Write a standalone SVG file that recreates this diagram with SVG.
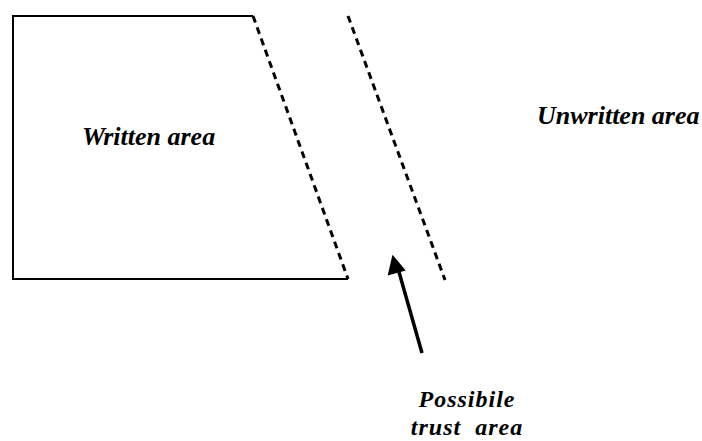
<svg xmlns="http://www.w3.org/2000/svg" width="702" height="441" viewBox="0 0 702 441">
<style>
.t{font-family:"Liberation Serif","Times New Roman",serif;font-weight:bold;font-style:italic;font-size:26px;fill:#000}
.b{font-size:24px;letter-spacing:1px}
.s{stroke:#000;stroke-width:2;fill:none}
.d{stroke:#000;stroke-width:3;fill:none;stroke-dasharray:7,5}
</style>
<rect width="702" height="441" fill="#fff"/>
<g id="written">
<polyline class="s" points="253,16 13,16 13,279 348,279"/>
<line class="d" x1="253" y1="16" x2="348" y2="279"/>
<text class="t" x="82" y="145">Written area</text>
</g>
<g id="boundary">
<line class="d" x1="348" y1="16" x2="445" y2="280"/>
</g>
<g id="unwritten">
<text class="t" x="537" y="124">Unwritten area</text>
</g>
<g id="trust">
<text class="t b" x="467" y="407" text-anchor="middle">Possibile</text>
<text class="t b" x="467" y="435" text-anchor="middle" xml:space="preserve">trust  area</text>
</g>
<g id="connectors">
<line x1="422" y1="353" x2="399" y2="272" stroke="#000" stroke-width="3.5"/>
<path d="M393,257 L389,274 L404,270 Z" fill="#000" stroke="#000" stroke-width="2"/>
</g>
</svg>
